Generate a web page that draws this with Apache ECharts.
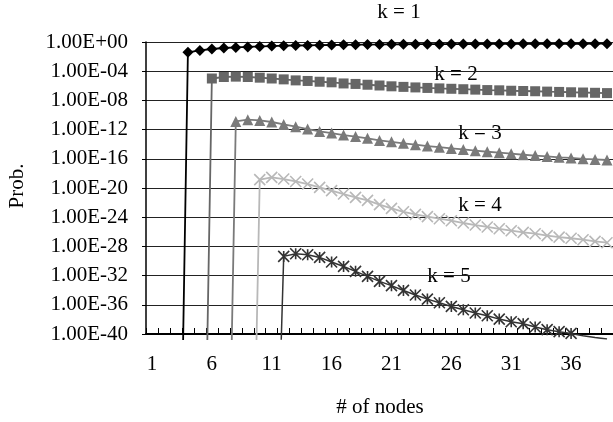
<!DOCTYPE html>
<html>
<head>
<meta charset="UTF-8">
<title>Prob. vs # of nodes</title>
<script type="text/javascript" src="https://cdn.jsdelivr.net/npm/echarts@6/dist/echarts.min.js"></script>
</head>
<body style="margin:0">
    <div id="main" style="width: 613px;height:422px;"></div>
    <script type="text/javascript">
    // x categories (# of nodes)
    var nodes = ['1','2','3','4','5','6','7','8','9','10','11','12','13','14','15','16','17','18','19','20',
                 '21','22','23','24','25','26','27','28','29','30','31','32','33','34','35','36','37','38','39'];

    // probabilities per k ('-' = nothing plotted)
    var k1 = ['-','-',1e-100,0.038,0.071,0.11,0.15,0.18,0.21,0.25,0.28,0.31,0.33,0.34,0.37,0.39,0.41,0.43,0.45,0.46,
              0.48,0.49,0.5,0.5,0.51,0.52,0.52,0.53,0.54,0.54,0.55,0.56,0.56,0.57,0.57,0.58,0.58,0.59,0.59];
    var k2 = ['-','-','-','-',1e-100,1.0e-5,1.6e-5,1.8e-5,1.6e-5,1.3e-5,1.0e-5,7.6e-6,5.5e-6,4.6e-6,3.6e-6,3.0e-6,2.1e-6,1.8e-6,1.4e-6,1.1e-6,
              8.5e-7,7.1e-7,6.0e-7,5.1e-7,4.4e-7,3.9e-7,3.4e-7,3.0e-7,2.6e-7,2.4e-7,2.1e-7,1.95e-7,1.8e-7,1.6e-7,1.45e-7,1.3e-7,1.2e-7,1.1e-7,1.0e-7];
    var k3 = ['-','-','-','-','-','-',1e-100,1.3e-11,2.3e-11,1.8e-11,1.1e-11,5.1e-12,2.5e-12,1.2e-12,5.6e-13,3.4e-13,1.8e-13,1.1e-13,6.3e-14,3.3e-14,
              2.1e-14,1.3e-14,8.5e-15,5.6e-15,3.9e-15,2.6e-15,1.9e-15,1.3e-15,9.3e-16,6.9e-16,5.0e-16,3.6e-16,2.8e-16,2.1e-16,1.6e-16,1.3e-16,1.0e-16,8.3e-17,6.9e-17];
    var k4 = ['-','-','-','-','-','-','-','-',1e-100,1.4e-19,2.8e-19,1.7e-19,7.9e-20,3.5e-20,1.2e-20,4.3e-21,1.5e-21,5.1e-22,2.0e-22,5.3e-23,
              1.6e-23,5.5e-24,2.4e-24,1.2e-24,6.2e-25,3.3e-25,1.6e-25,8.5e-26,4.6e-26,2.6e-26,1.4e-26,8.3e-27,5.5e-27,3.0e-27,1.9e-27,1.3e-27,8.3e-28,4.8e-28,3.2e-28];
    var k5 = ['-','-','-','-','-','-','-','-','-','-',1e-85,4.3e-30,1.0e-29,7.2e-30,3.1e-30,7.2e-31,1.8e-31,3.8e-32,7.8e-33,1.6e-33,
              4.2e-34,9.3e-35,2.2e-35,6.0e-36,1.9e-36,6.0e-37,2.1e-37,7.6e-38,3.2e-38,1.1e-38,4.8e-39,2.6e-39,9.1e-40,3.9e-40,2.1e-40,1.2e-40,5.9e-41,3.4e-41,2.0e-41];

    // y tick decades (exponents of 10) shown on the axis
    var yExpMin = -40, yExpMax = 0, yExpStep = 4;

    var FONT = '"Liberation Serif", "Times New Roman", serif';
    var Y_MIN = Math.pow(10, yExpMin);
    var Y_FLOOR = Math.pow(10, yExpMin * 297 / 292); // data grid reaches 5px under the axis, like the original

    // labels are drawn on an exponent axis over the same area (echarts loses the 1e-40 tick on a log axis)
    function expLabel(e) {
        e = Math.round(e);
        var a = Math.abs(e);
        return '1.00E' + (e < 0 ? '-' : '+') + (a < 10 ? '0' + a : a);
    }

    function mkSeries(name, values, color, symbol, size, lw) {
        // points under the axis keep their line but get no marker
        var data = values.map(function (v) {
            return (v !== '-' && v < Y_MIN * 0.9) ? { value: v, symbol: 'none' } : v;
        });
        return {
            name: name,
            type: 'line',
            xAxisIndex: 1,
            yAxisIndex: 1,
            data: data,
            symbol: symbol,
            symbolSize: size,
            showSymbol: true,
            showAllSymbol: true,
            connectNulls: false,
            clip: true,
            lineStyle: { color: color, width: lw },
            itemStyle: { color: color, borderColor: color, borderWidth: symbol.indexOf('path://') === 0 ? 1.6 : 0 }
        };
    }

    function label(txt, x, y) {
        return { type: 'text', x: x, y: y,
                 style: { text: txt, font: '21px ' + FONT, fill: '#000', textAlign: 'center', textVerticalAlign: 'middle' } };
    }

    var myChart = echarts.init(document.getElementById('main'));
    var option = {
        animation: false,
        grid: [
            { left: 146, top: 42, right: 0, bottom: 88, outerBoundsMode: 'none' },   // axes, grid lines
            { left: 146, top: 42, right: 0, bottom: 83, outerBoundsMode: 'none' }    // data
        ],
        xAxis: [{
            type: 'category',
            gridIndex: 0,
            data: nodes,
            boundaryGap: true,
            axisLine: { onZero: false, lineStyle: { color: '#000', width: 2 } },
            axisTick: { show: true, interval: 0, inside: true, length: 6, lineStyle: { color: '#000', width: 1 } },
            axisLabel: { interval: 4, color: '#000', fontFamily: FONT, fontSize: 21, margin: 20 },
            splitLine: { show: false }
        }, {
            type: 'category',
            gridIndex: 1,
            data: nodes,
            boundaryGap: true,
            show: false
        }],
        yAxis: [{
            type: 'value',
            gridIndex: 0,
            min: yExpMin,
            max: yExpMax,
            interval: yExpStep,
            axisLine: { show: true, onZero: false, lineStyle: { color: '#000', width: 1.5 } },
            axisTick: { show: true, length: 4, lineStyle: { color: '#000' } },
            axisLabel: { color: '#000', fontFamily: FONT, fontSize: 21, margin: 18, formatter: expLabel,
                         showMinLabel: true, showMaxLabel: true },
            splitLine: { show: true, lineStyle: { color: '#222', width: 1 } }
        }, {
            type: 'log',
            gridIndex: 1,
            logBase: 10,
            min: Y_FLOOR,
            max: 1,
            show: false,
            splitLine: { show: false }
        }],
        series: [
            mkSeries('k = 5', k5, '#333333', 'path://M0,0L10,10M10,0L0,10M5,0L5,10', 11, 1.5),
            mkSeries('k = 4', k4, '#b8b8b8', 'path://M0,0L10,10M10,0L0,10', 11, 1.8),
            mkSeries('k = 3', k3, '#7a7a7a', 'triangle', 11, 1.8),
            mkSeries('k = 2', k2, '#666666', 'rect', 10, 1.8),
            mkSeries('k = 1', k1, '#000000', 'diamond', 11, 1.8)
        ],
        graphic: [
            label('k = 1', 399, 12),
            label('k = 2', 456, 74),
            label('k = 3', 480, 133),
            label('k = 4', 480, 205),
            label('k = 5', 449, 276),
            label('# of nodes', 380, 407),
            { type: 'text', x: 17, y: 186, rotation: Math.PI / 2,
              style: { text: 'Prob.', font: '21px ' + FONT, fill: '#000', textAlign: 'center', textVerticalAlign: 'middle' } }
        ]
    };
    myChart.setOption(option);
    </script>
</body>
</html>
